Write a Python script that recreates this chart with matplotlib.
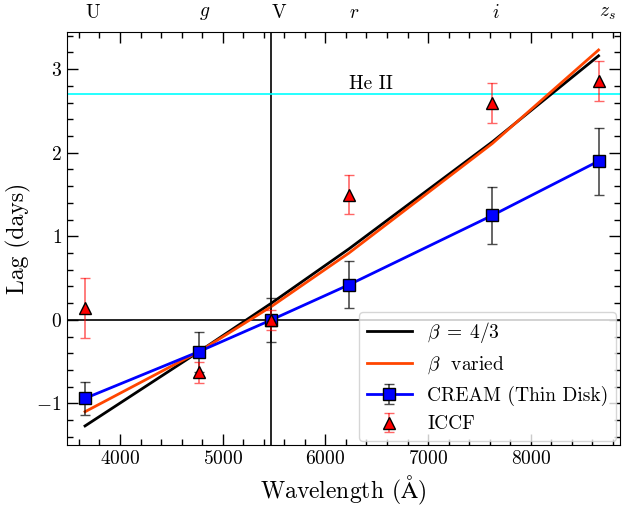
import numpy as np
import matplotlib
matplotlib.use('Agg')
from matplotlib import pyplot as plt
from matplotlib.ticker import MultipleLocator

plt.rcParams['font.family'] = 'serif'
plt.rcParams['font.serif'] = ['cmr10', 'DejaVu Serif']
plt.rcParams['mathtext.fontset'] = 'cm'
plt.rcParams['axes.formatter.use_mathtext'] = True

# band wavelengths (Angstrom) and names
bands = ['U', '$g$', 'V', '$r$', '$i$', '$z_s$']
wave = [3660, 4770, 5475, 6230, 7625, 8660]

# model lags
lag_beta43 = [-1.27, -0.38, 0.20, 0.85, 2.13, 3.16]
lag_varied = [-1.10, -0.38, 0.16, 0.80, 2.11, 3.23]

# CREAM thin disk lags
cream = [-0.94, -0.38, 0.0, 0.42, 1.25, 1.90]
cream_err = [0.20, 0.24, 0.26, 0.28, 0.34, 0.40]

# ICCF lags
iccf = [0.14, -0.63, 0.0, 1.50, 2.60, 2.86]
iccf_err = [0.36, 0.13, 0.12, 0.23, 0.24, 0.24]

heii_lag = 2.70

fig = plt.figure(figsize=(6.22, 5.07), dpi=100)
ax = fig.add_axes([0.107, 0.122, 0.890, 0.814])

ax.axhline(0, color='black', lw=1.2, zorder=1)
ax.axvline(wave[2], color='black', lw=1.2, zorder=1)
ax.axhline(heii_lag, color='cyan', lw=1.2, zorder=1)
ax.text(wave[3], heii_lag + 0.02, 'He II', fontsize=14, ha='left', va='bottom')

ax.plot(wave, lag_beta43, color='black', lw=2, label=r'$\beta \;=\; 4/3$', zorder=2)
ax.plot(wave, lag_varied, color='orangered', lw=2, label=r'$\beta$  varied', zorder=2)

ax.errorbar(wave, cream, yerr=cream_err, fmt='s-', color='blue', lw=2,
            mfc='blue', mec='black', mew=1, ms=9, ecolor=(0, 0, 0, 0.7),
            elinewidth=1.2, capsize=3.5, label='CREAM (Thin Disk)', zorder=3)
ax.errorbar(wave, iccf, yerr=iccf_err, fmt='^', color='red', mfc='red',
            mec='black', mew=1, ms=9, ecolor=(1, 0, 0, 0.6), elinewidth=1.2,
            capsize=3.5, label='ICCF', zorder=4)

ax.set_xlim(3480, 8870)
ax.set_ylim(-1.5, 3.44)
ax.xaxis.set_major_locator(MultipleLocator(1000))
ax.xaxis.set_minor_locator(MultipleLocator(200))
ax.yaxis.set_major_locator(MultipleLocator(1))
ax.yaxis.set_minor_locator(MultipleLocator(0.2))
ax.tick_params(which='both', direction='in', top=True, right=True, labelsize=14)
ax.tick_params(which='major', length=8, width=1)
ax.tick_params(which='minor', length=4.5, width=1)

for name, w in zip(bands, wave):
    ax.text(w, 1.025, name, transform=ax.get_xaxis_transform(), ha='left',
            va='bottom', fontsize=14)

ax.set_xlabel(r'Wavelength ($\mathrm{\AA}$)', fontsize=17)
ax.set_ylabel('Lag (days)', fontsize=17)

ax.legend(loc='lower right', fontsize=14, borderaxespad=0.2, handlelength=2.3)

fig.savefig('out.png', dpi=100)
